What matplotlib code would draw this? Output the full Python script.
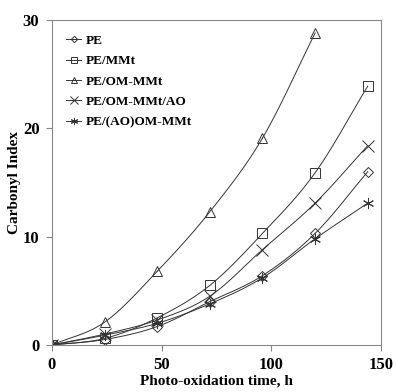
import numpy as np
import matplotlib.pyplot as plt

plt.rcParams['font.family'] = ['Liberation Serif', 'DejaVu Serif']
plt.rcParams['font.weight'] = 'bold'

# data
time_h = [0, 24, 48, 72, 96, 120, 144]
pe = [0, 0.5, 1.7, 4.0, 6.4, 10.3, 16.0]
pe_mmt = [0, 0.6, 2.5, 5.5, 10.3, 15.9, 23.9]
pe_om = [0, 2.1, 6.8, 12.3, 19.1, 28.8]
pe_om_ao = [0, 1.0, 2.3, 4.5, 8.8, 13.1, 18.4]
pe_aoom = [0, 0.9, 2.0, 3.8, 6.2, 9.8, 13.1]

labels = ['PE', 'PE/MMt', 'PE/OM-MMt', 'PE/OM-MMt/AO', 'PE/(AO)OM-MMt']
markers = ['D', 's', '^', 'x', (6, 2, 0)]
sizes = [5, 7, 7, 8, 8]


def smooth(x, y, n=20):
    # Catmull-Rom curve through the points, like Excel's smoothed line
    x = np.asarray(x, float)
    y = np.asarray(y, float)
    px = np.concatenate([[2 * x[0] - x[1]], x, [2 * x[-1] - x[-2]]])
    py = np.concatenate([[2 * y[0] - y[1]], y, [2 * y[-1] - y[-2]]])
    t = np.linspace(0, 1, n)
    xs, ys = [], []
    for i in range(1, len(px) - 2):
        for p, out in ((px, xs), (py, ys)):
            p0, p1, p2, p3 = p[i - 1:i + 3]
            out.extend(0.5 * (2 * p1 + (-p0 + p2) * t
                              + (2 * p0 - 5 * p1 + 4 * p2 - p3) * t ** 2
                              + (-p0 + 3 * p1 - 3 * p2 + p3) * t ** 3))
    return xs, ys


fig = plt.figure(figsize=(3.96, 3.92), dpi=100)
ax = fig.add_axes([0.131, 0.120, 0.831, 0.829])

series = [pe, pe_mmt, pe_om, pe_om_ao, pe_aoom]
for vals, lab, m, s in zip(series, labels, markers, sizes):
    t = time_h[:len(vals)]
    xs, ys = smooth(t, vals)
    ax.plot(xs, ys, color='#333333', lw=0.7)
    ax.plot(t, vals, ls='none', marker=m, ms=s, mfc='none', mec='#333333', mew=0.7)
    ax.plot([], [], color='#333333', lw=0.7, marker=m, ms=s * 0.65, mfc='none',
            mec='#333333', mew=0.7, label=lab)

ax.set_xlim(0, 150)
ax.set_ylim(0, 30)
ax.set_xticks([0, 50, 100, 150])
ax.set_yticks([0, 10, 20, 30])
ax.tick_params(direction='out', length=4, color='#888888', labelsize=12, pad=5)
for sp in ax.spines.values():
    sp.set_color('#888888')
ax.set_xlabel('Photo-oxidation time, h', fontsize=11, fontweight='bold', labelpad=1)
ax.set_ylabel('Carbonyl Index', fontsize=11, fontweight='bold', labelpad=1)

ax.legend(loc='upper left', frameon=False, fontsize=9.5, handlelength=1.1,
          handletextpad=0.35, labelspacing=0.62, borderaxespad=0.6,
          borderpad=0.5)

fig.savefig('out.png', dpi=100)
